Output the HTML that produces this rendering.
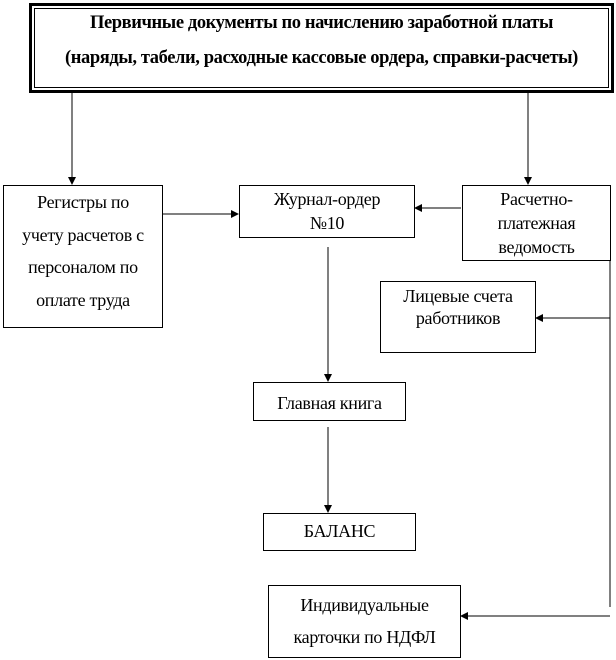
<!DOCTYPE html>
<html><head><meta charset="utf-8"><style>
body{margin:0;width:616px;height:660px;background:#fff;position:relative;font-family:"Liberation Serif","Noto Serif CJK SC",serif;color:#000;overflow:hidden}
.b{position:absolute;border:1px solid #000;box-sizing:border-box;text-align:center;font-size:18px;background:#fff;white-space:nowrap;letter-spacing:-0.3px}
svg{position:absolute;left:0;top:0}
</style></head><body>
<svg width="616" height="660">
<defs><marker id="a" markerWidth="8" markerHeight="8" refX="7" refY="4" orient="auto" markerUnits="userSpaceOnUse"><path d="M0,0 L8,4 L0,8z" fill="#000"/></marker></defs>
<g stroke="#000" stroke-width="1" fill="none">
<line x1="72" y1="93" x2="72" y2="184" marker-end="url(#a)"/>
<line x1="528" y1="93" x2="528" y2="184" marker-end="url(#a)"/>
<line x1="162" y1="214" x2="238" y2="214" marker-end="url(#a)"/>
<line x1="461" y1="208" x2="415" y2="208" marker-end="url(#a)"/>
<line x1="610" y1="260" x2="610" y2="607"/>
<line x1="610" y1="318" x2="536" y2="318" marker-end="url(#a)"/>
<line x1="610" y1="616" x2="461" y2="616" marker-end="url(#a)"/>
<line x1="328" y1="247" x2="328" y2="381" marker-end="url(#a)"/>
<line x1="328" y1="427" x2="328" y2="512" marker-end="url(#a)"/>
</g>
</svg>
<div class="b" style="left:29px;top:3px;width:585px;height:90px;border:3px solid #000;padding:2px">
<div style="border:1px solid #000;height:100%;box-sizing:border-box;font-weight:bold;font-size:18.5px;line-height:35px;margin-top:0;letter-spacing:-0.4px"><div style="position:relative;top:-3px">Первичные документы по начислению заработной платы<br>(наряды, табели, расходные кассовые ордера, справки-расчеты)</div></div></div>
<div class="b" style="left:3px;top:185px;width:160px;height:143px;line-height:32.5px;padding-top:0px">Регистры по<br>учету расчетов с<br>персоналом по<br>оплате труда</div>
<div class="b" style="left:239px;top:185px;width:176px;height:53px;line-height:24px;padding-top:1px">Журнал-ордер<br>№10</div>
<div class="b" style="left:462px;top:185px;width:149px;height:76px;line-height:24px;padding-top:1px">Расчетно-<br>платежная<br>ведомость</div>
<div class="b" style="left:380px;top:281px;width:156px;height:72px;line-height:22px;padding-top:3px">Лицевые счета<br>работников</div>
<div class="b" style="left:253px;top:382px;width:153px;height:39px;line-height:40px">Главная книга</div>
<div class="b" style="left:263px;top:513px;width:153px;height:38px;line-height:35px">БАЛАНС</div>
<div class="b" style="left:268px;top:585px;width:193px;height:73px;line-height:32px;padding-top:3px">Индивидуальные<br>карточки по НДФЛ</div>
</body></html>
